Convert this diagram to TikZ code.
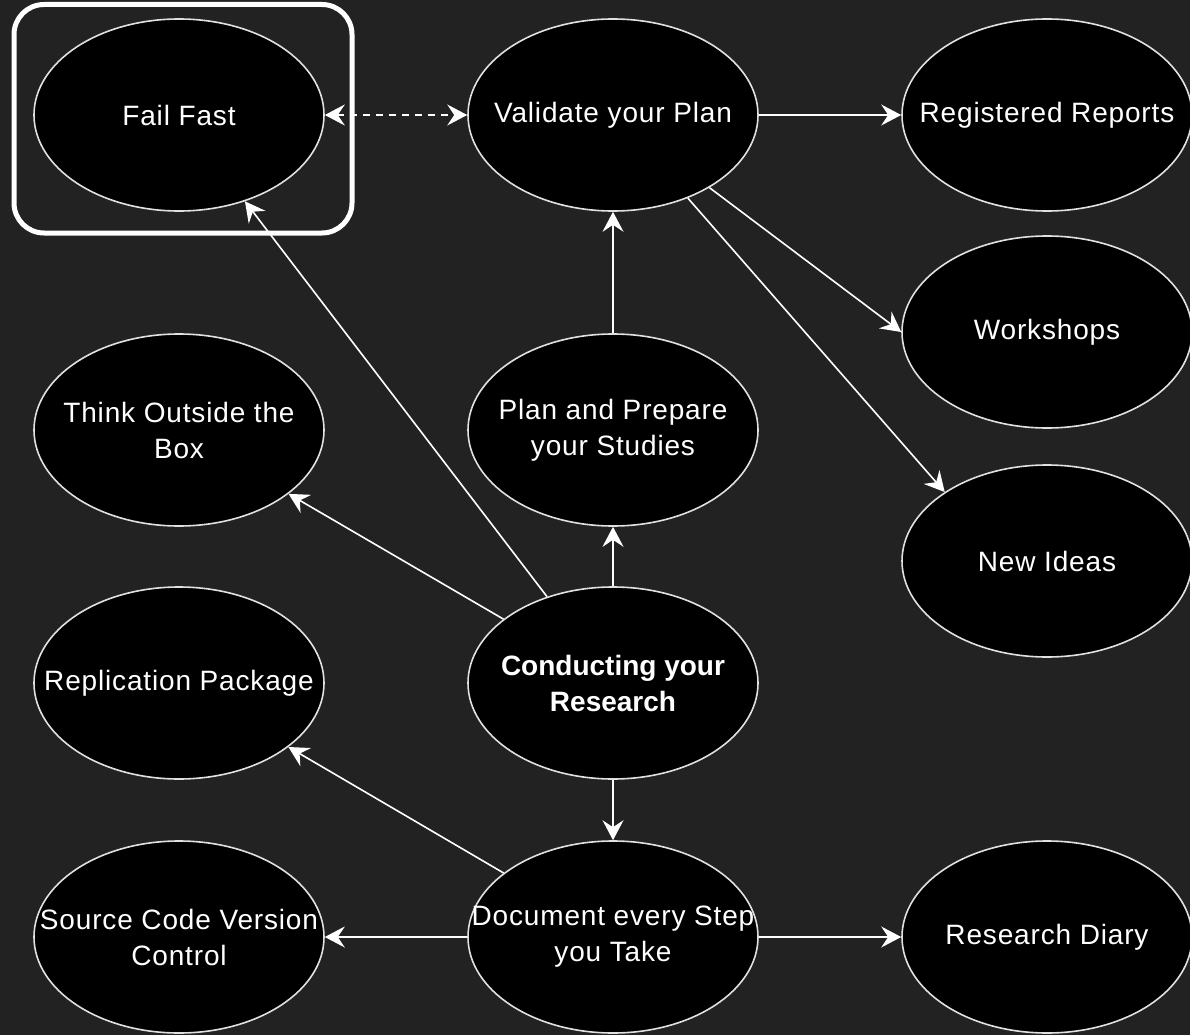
\documentclass[tikz,border=0pt]{standalone}
\usepackage{fontspec}
\setmainfont{Liberation Sans}[LetterSpace=3]
\newfontfamily\crfont{Liberation Sans}
\usetikzlibrary{arrows.meta,shapes.geometric}
\definecolor{bgc}{RGB}{34,34,34}
\definecolor{rim}{RGB}{225,225,225}
\begin{document}
\begin{tikzpicture}[x=1pt,y=1pt,
  oval/.style={ellipse, draw=rim, line width=1.6pt, fill=black, minimum width=290pt, minimum height=192pt, inner sep=0pt},
  txt/.style={text=white, align=center, inner sep=0pt, font=\fontsize{28}{36}\selectfont},
  conn/.style={draw=white, line width=1.6pt, -{Stealth[length=20pt,width=21pt,inset=7pt]}},
  dconn/.style={draw=white, line width=1.6pt, dash pattern=on 7pt off 6pt, {Stealth[length=20pt,width=21pt,inset=7pt]}-{Stealth[length=20pt,width=21pt,inset=7pt]}},
]
\fill[bgc] (0,0) rectangle (1190,-1035);
\useasboundingbox (0,0) rectangle (1190,-1035);

\draw[white, line width=5pt, rounded corners=30pt] (14,-4.5) rectangle (352,-233);

\node[oval] (ff) at (179,-115) {};
\node[txt] (fft) at (ff) {Fail Fast};
\node[oval] (vp) at (613,-115) {};
\node[txt] (vpt) at (vp) {Validate your Plan};
\node[oval] (rr) at (1047,-115) {};
\node[txt] (rrt) at (rr) {Registered Reports};
\node[oval] (ws) at (1047,-332) {};
\node[txt] (wst) at (ws) {Workshops};
\node[oval] (tb) at (179,-430) {};
\node[txt] (tbt) at (tb) {Think Outside the\\Box};
\node[oval] (pp) at (613,-430) {};
\node[txt] (ppt) at (pp) {Plan and Prepare\\your Studies};
\node[oval] (ni) at (1047,-561) {};
\node[txt] (nit) at (ni) {New Ideas};
\node[oval] (rp) at (179,-683) {};
\node[txt] (rpt) at (rp) {Replication Package};
\node[oval] (cr) at (613,-683) {};
\node[txt, font=\crfont\fontsize{28}{36}\selectfont\bfseries] (crt) at (cr) {Conducting your\\Research};
\node[oval] (sc) at (179,-937) {};
\node[txt] (sct) at (sc) {Source Code Version\\Control};
\node[oval] (ds) at (613,-937) {};
\node[txt] (dst) at (ds) {Document every Step\\you Take};
\node[oval] (rd) at (1047,-937) {};
\node[txt] (rdt) at (rd) {Research Diary};

\draw[dconn] (ff) -- (vp);
\draw[conn] (vp) -- (rr);
\draw[conn] (vp.-37.5) -- (ws.180);
\draw[conn] (vp.-48.5) -- (ni.146);
\draw[conn] (pp) -- (vp);
\draw[conn] (cr) -- (pp);
\draw[conn] (cr) -- (tb);
\draw[conn] (cr) -- (ff);
\draw[conn] (cr) -- (ds);
\draw[conn] (ds) -- (rp);
\draw[conn] (ds) -- (sc);
\draw[conn] (ds) -- (rd);
\end{tikzpicture}
\end{document}
